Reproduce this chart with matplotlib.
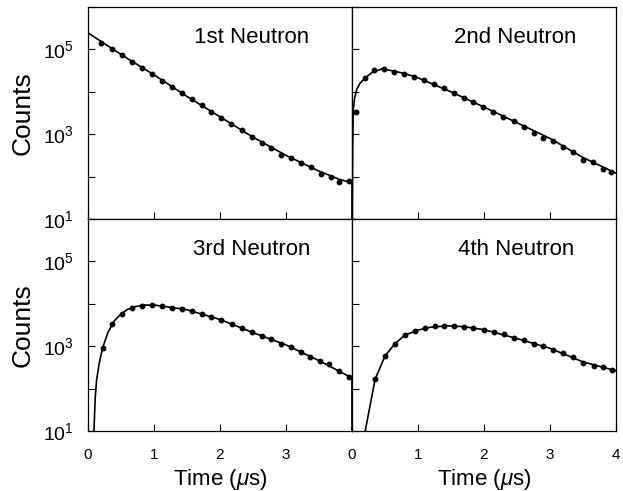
import matplotlib

matplotlib.use("Agg")
import matplotlib.pyplot as plt
import numpy as np

plt.rcParams["font.family"] = ["Liberation Sans", "DejaVu Sans"]
plt.rcParams["mathtext.fontset"] = "custom"
plt.rcParams["mathtext.rm"] = "Liberation Sans"
plt.rcParams["mathtext.it"] = "Liberation Sans:italic"

# measured points (time in microseconds, log10 counts)
t1 = [0.20, 0.36, 0.51, 0.66, 0.82, 0.97, 1.12, 1.27, 1.42, 1.57, 1.72, 1.87, 2.02,
      2.17, 2.33, 2.48, 2.63, 2.78, 2.93, 3.08, 3.23, 3.38, 3.53, 3.68, 3.80, 3.95]
y1 = [5.16, 5.00, 4.86, 4.70, 4.57, 4.43, 4.25, 4.11, 3.96, 3.82, 3.68, 3.53, 3.39,
      3.24, 3.09, 2.94, 2.80, 2.67, 2.51, 2.43, 2.32, 2.22, 2.07, 2.00, 1.88, 1.90]

t2 = [0.06, 0.20, 0.34, 0.49, 0.64, 0.79, 0.94, 1.09, 1.24, 1.39, 1.54, 1.69, 1.84, 1.99,
      2.14, 2.29, 2.45, 2.60, 2.75, 2.90, 3.05, 3.20, 3.35, 3.50, 3.65, 3.80, 3.93]
y2 = [3.53, 4.32, 4.51, 4.53, 4.47, 4.43, 4.36, 4.29, 4.18, 4.08, 3.98, 3.86, 3.77, 3.64,
      3.53, 3.41, 3.30, 3.16, 3.04, 2.92, 2.84, 2.69, 2.58, 2.39, 2.35, 2.18, 2.10]

t3 = [0.22, 0.37, 0.52, 0.67, 0.82, 0.97, 1.12, 1.27, 1.42, 1.57, 1.72, 1.87, 2.02,
      2.18, 2.33, 2.48, 2.63, 2.78, 2.92, 3.07, 3.22, 3.37, 3.51, 3.65, 3.80, 3.95]
y3 = [2.95, 3.53, 3.76, 3.89, 3.95, 3.97, 3.95, 3.91, 3.88, 3.84, 3.76, 3.70, 3.62,
      3.53, 3.43, 3.33, 3.24, 3.18, 3.06, 2.98, 2.87, 2.75, 2.65, 2.57, 2.42, 2.27]

t4 = [0.35, 0.50, 0.65, 0.80, 0.95, 1.10, 1.25, 1.39, 1.54, 1.69, 1.84, 2.00, 2.15,
      2.30, 2.45, 2.60, 2.75, 2.90, 3.05, 3.20, 3.35, 3.50, 3.66, 3.81, 3.94]
y4 = [2.22, 2.77, 3.06, 3.26, 3.36, 3.43, 3.47, 3.48, 3.47, 3.45, 3.43, 3.39, 3.33,
      3.28, 3.20, 3.14, 3.06, 3.00, 2.92, 2.83, 2.75, 2.61, 2.53, 2.50, 2.44]

# fitted curves (time, log10 counts)
f1_t = [0.0, 0.5, 1.0, 1.5, 2.0, 2.5, 3.0, 3.5, 3.8, 4.0, 4.0]
f1_y = [5.39, 4.88, 4.40, 3.89, 3.41, 2.93, 2.50, 2.13, 1.94, 1.85, -1.0]

f2_t = [0.0, 0.01, 0.02, 0.04, 0.07, 0.12, 0.2, 0.3, 0.45, 0.6, 0.8, 1.0, 1.5, 2.0,
        2.5, 3.0, 3.5, 4.0]
f2_y = [-1.0, 2.6, 3.6, 3.85, 4.05, 4.2, 4.33, 4.45, 4.54, 4.50, 4.43, 4.33, 4.0, 3.64,
        3.27, 2.90, 2.45, 2.08]

f3_t = [0.09, 0.11, 0.13, 0.17, 0.22, 0.3, 0.4, 0.5, 0.6, 0.7, 0.85, 1.0, 1.2, 1.5,
        2.0, 2.5, 3.0, 3.5, 4.0, 4.0]
f3_y = [1.0, 1.8, 2.2, 2.6, 2.95, 3.32, 3.6, 3.76, 3.87, 3.93, 3.97, 3.97, 3.93, 3.86,
        3.63, 3.32, 3.03, 2.66, 2.25, -1.0]

f4_t = [0.2, 0.35, 0.5, 0.65, 0.8, 1.0, 1.2, 1.45, 1.7, 2.0, 2.5, 3.0, 3.5, 4.0]
f4_y = [1.0, 2.22, 2.77, 3.06, 3.26, 3.38, 3.45, 3.48, 3.46, 3.39, 3.18, 2.95, 2.63, 2.42]

titles = ["1st Neutron", "2nd Neutron", "3rd Neutron", "4th Neutron"]

W, H = 623, 491
fig = plt.figure(figsize=(W / 100, H / 100), dpi=100)

left, right, top, mid, bot = 88, 616, 7, 219, 431
half = (right - left) / 2
boxes = [
    (left, top, mid), (left + half, top, mid),
    (left, mid, bot), (left + half, mid, bot),
]
panels = [(t1, y1, f1_t, f1_y), (t2, y2, f2_t, f2_y), (t3, y3, f3_t, f3_y), (t4, y4, f4_t, f4_y)]

for i, ((x0, ya, yb), (t, y, ft, fy)) in enumerate(zip(boxes, panels)):
    ax = fig.add_axes([x0 / W, 1 - yb / H, half / W, (yb - ya) / H])
    ax.plot(ft, 10 ** np.array(fy), color="black", lw=1.2)
    ax.plot(t, 10 ** np.array(y), "o", color="black", ms=3.2)
    ax.set_yscale("log")
    ax.set_xlim(0, 4)
    ax.set_ylim(10, 1e6)
    ax.minorticks_off()
    ax.set_yticks([1e1, 1e2, 1e3, 1e4, 1e5, 1e6])
    ax.tick_params(direction="in", length=5, width=0.8, colors="black")
    for s in ax.spines.values():
        s.set_linewidth(0.9)
    if i % 2 == 0:
        ax.set_yticklabels([r"$10^1$", "", r"$10^3$", "", r"$10^5$", ""], fontsize=14)
        ax.tick_params(axis="y", pad=10)
        ax.set_ylabel("Counts", fontsize=19, labelpad=6)
        ax.set_xticks([0, 1, 2, 3])
    else:
        ax.set_yticklabels([])
        ax.set_xticks([0, 1, 2, 3, 4])
    if i < 2:
        ax.set_xticklabels([])
    else:
        ax.tick_params(axis="x", labelsize=11, pad=12)
        ax.set_xlabel(r"Time ($\mu$s)", fontsize=16, labelpad=4)
    ax.text(0.62, 0.855, titles[i], transform=ax.transAxes, ha="center", va="center",
            fontsize=16)

fig.savefig("out.png", dpi=100)
